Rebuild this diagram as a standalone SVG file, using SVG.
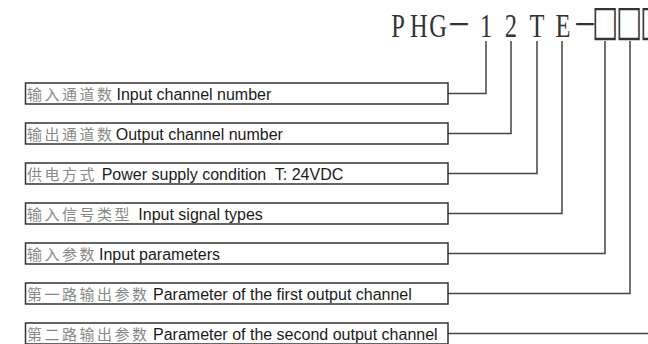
<svg xmlns="http://www.w3.org/2000/svg" width="648" height="344" viewBox="0 0 648 344">
<style>
.box{fill:#fff;stroke:#333;stroke-width:1.5}
.cn{font-family:"Noto Sans CJK SC","Noto Sans CJK JP",sans-serif;font-size:15px;letter-spacing:2.5px;fill:#888}
.en{font-family:"Liberation Sans",Arial,sans-serif;font-size:16px;fill:#1a1a1a;white-space:pre}
.title{font-family:"Liberation Serif","DejaVu Serif","Noto Sans CJK SC",serif;font-size:34px;fill:#333;text-anchor:middle}
.sq{font-family:"DejaVu Sans",sans-serif;font-size:42px;fill:#333;text-anchor:middle}
.conn{fill:none;stroke:#444;stroke-width:1.5}
</style>
<rect width="648" height="344" fill="#fff"/>
<g id="title">
<text class="title" transform="scale(0.72,1)" x="552.8 581.9 608.3 637.5 675 709.7 745.8 781.9 812.5" y="37">PHG－12TE－</text>
<text class="sq" transform="scale(0.66,1)" x="916.7 953 989.4" y="35">□□□</text>
</g>
<g id="connectors">
<polyline class="conn" points="448,93.5 486,93.5 486,41"/>
<polyline class="conn" points="448,133.5 511,133.5 511,41"/>
<polyline class="conn" points="448,173.5 537,173.5 537,41"/>
<polyline class="conn" points="448,213.5 562,213.5 562,41"/>
<polyline class="conn" points="448,253.5 605,253.5 605,41"/>
<polyline class="conn" points="448,293.5 630,293.5 630,41"/>
<polyline class="conn" points="448,333.5 650,333.5"/>
</g>
<g id="n1"><rect class="box" x="25.5" y="83" width="422.5" height="21"/><text class="cn" x="27" y="99.5">输入通道数</text><text class="en" x="116.5" y="99.5">Input channel number</text></g>
<g id="n2"><rect class="box" x="25.5" y="123" width="422.5" height="21"/><text class="cn" x="27" y="139.5">输出通道数</text><text class="en" x="115.7" y="139.5">Output channel number</text></g>
<g id="n3"><rect class="box" x="25.5" y="163" width="422.5" height="21"/><text class="cn" x="27" y="179.5">供电方式</text><text class="en" x="101.7" y="179.5">Power supply condition  T: 24VDC</text></g>
<g id="n4"><rect class="box" x="25.5" y="203" width="422.5" height="21"/><text class="cn" x="27" y="219.5">输入信号类型</text><text class="en" x="138.3" y="219.5">Input signal types</text></g>
<g id="n5"><rect class="box" x="25.5" y="243" width="422.5" height="21"/><text class="cn" x="27" y="259.5">输入参数</text><text class="en" x="99" y="259.5">Input parameters</text></g>
<g id="n6"><rect class="box" x="25.5" y="283" width="422.5" height="21"/><text class="cn" x="27" y="299.5">第一路输出参数</text><text class="en" x="153" y="299.5">Parameter of the first output channel</text></g>
<g id="n7"><rect class="box" x="25.5" y="323" width="422.5" height="21"/><text class="cn" x="27" y="339.5">第二路输出参数</text><text class="en" x="153" y="339.5">Parameter of the second output channel</text></g>
</svg>
